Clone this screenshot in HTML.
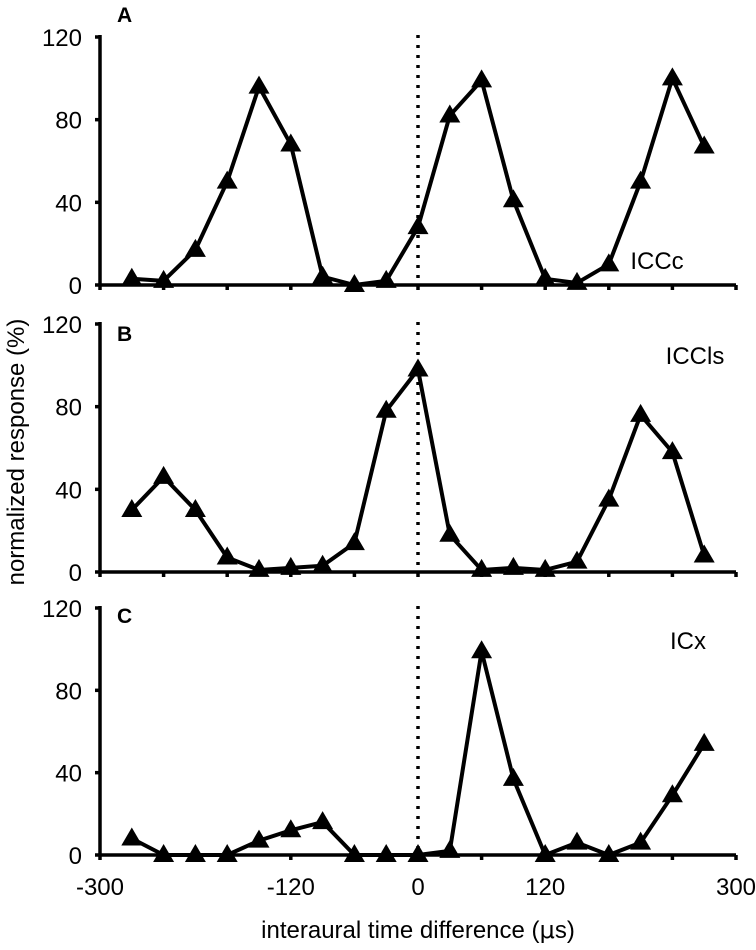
<!DOCTYPE html>
<html><head><meta charset="utf-8"><style>
body{margin:0;background:#fff;}
svg{display:block;font-family:"Liberation Sans",Arial,sans-serif;}
</style></head><body>
<svg id="chart" width="756" height="950" viewBox="0 0 756 950"></svg>
<script>
const itdValues=[-270,-240,-210,-180,-150,-120,-90,-60,-30,0,30,60,90,120,150,180,210,240,270];
const seriesA=[3,2,17,50,96,68,4,0,2,28,82,99,41,3,1,10,50,100,67];
const seriesB=[30,46,30,7,1,2,3,14,78,98,18,1,2,1,5,35,76,58,8];
const seriesC=[8,0,0,0,7,12,16,0,0,0,2,99,37,0,6,0,6,29,54];
const yTicks=[0,40,80,120];
const xTickLabels=[-300,-120,0,120,300];
const panelLetters=["A","B","C"];
const regionNames=["ICCc","ICCls","ICx"];

const svg=document.getElementById('chart');
const NS='http://www.w3.org/2000/svg';
function mk(tag,attrs,parent){const e=document.createElementNS(NS,tag);for(const k in attrs)e.setAttribute(k,attrs[k]);(parent||svg).appendChild(e);return e;}
const xScale=v=>418+v*1.06;
const panels=[
 {data:seriesA,base:285,top:37,letterY:22,nameX:657,nameY:269},
 {data:seriesB,base:572,top:324,letterY:341,nameX:695,nameY:364},
 {data:seriesC,base:855,top:608,letterY:623,nameX:688,nameY:649}
];
panels.forEach((p,i)=>{
  const ys=v=>p.base-(v/120)*(p.base-p.top);
  const g=mk('g',{});
  
  
  const ya=mk('line',{x1:100,y1:p.top-2,x2:100,y2:p.base,stroke:'#000','stroke-width':3.5},g);
  
  
  yTicks.forEach(t=>{
    const y=ys(t);
    mk('line',{x1:95,y1:y,x2:100,y2:y,stroke:'#000','stroke-width':3.5},g);
    const tl=mk('text',{x:82,y:y+9,'text-anchor':'end','font-size':24},g);
    tl.textContent=t;
    
    
  });
  const xa=mk('line',{x1:100,y1:p.base,x2:xScale(300),y2:p.base,stroke:'#000','stroke-width':3.5},g);
  
  
  for(let v=-300;v<=300;v+=60){
    mk('line',{x1:xScale(v),y1:p.base,x2:xScale(v),y2:p.base+5,stroke:'#000','stroke-width':3.5},g);
  }
  const dl=mk('line',{x1:xScale(0),y1:p.top-2,x2:xScale(0),y2:p.base,stroke:'#000','stroke-width':3.5,'stroke-dasharray':'3,7'},g);
  
  
  const pts=itdValues.map((x,j)=>xScale(x)+','+ys(p.data[j])).join(' ');
  const pl=mk('polyline',{points:pts,fill:'none',stroke:'#000','stroke-width':4,'stroke-linejoin':'round'},g);
  
  
  itdValues.forEach((x,j)=>{
    const cx=xScale(x),cy=ys(p.data[j]);
    const m=mk('polygon',{points:`${cx},${cy-11} ${cx-10.5},${cy+7} ${cx+10.5},${cy+7}`,fill:'#000'},g);
    
    
  });
  const lt=mk('text',{x:117,y:p.letterY,'font-size':21,'font-weight':'bold'},g);
  lt.textContent=panelLetters[i];
  
  
  const nt=mk('text',{x:p.nameX,y:p.nameY,'font-size':24,'text-anchor':'middle'},g);
  nt.textContent=regionNames[i];
  
  
});
xTickLabels.forEach(v=>{
  const t=mk('text',{x:xScale(v),y:895,'text-anchor':'middle','font-size':24});
  t.textContent=v;
  
  
});
const xt=mk('text',{x:418,y:938,'text-anchor':'middle','font-size':24});
xt.innerHTML='interaural time difference (<tspan font-family="DejaVu Sans">&#956;</tspan>s)';


const yt=mk('text',{x:0,y:0,'text-anchor':'middle','font-size':24,transform:'translate(24,452) rotate(-90)'});
yt.textContent='normalized response (%)';


</script>
</body></html>
